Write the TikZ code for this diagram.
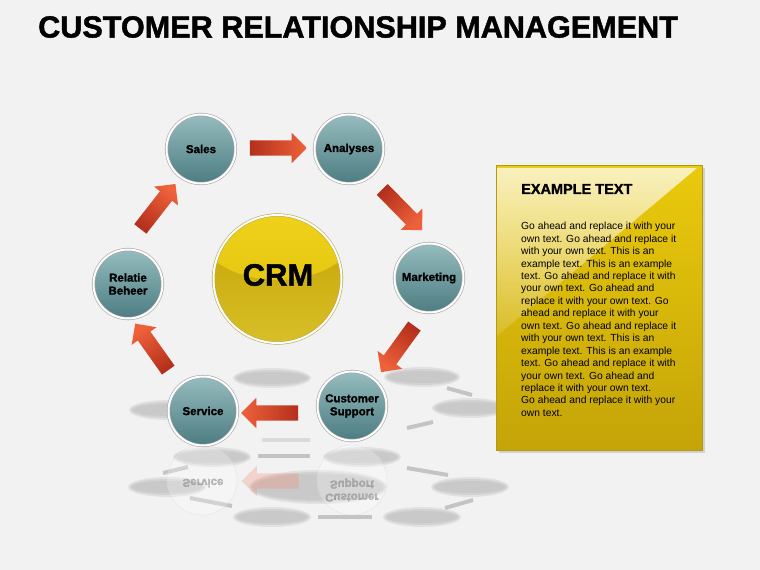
\documentclass[tikz,border=0pt]{standalone}
\usepackage{fontspec}
\setmainfont{Liberation Sans}
\newfontfamily\heavyfont[FakeBold=1.5,BoldFeatures={FakeBold=1.5}]{Liberation Sans}
\usetikzlibrary{shapes.arrows,fadings}
\definecolor{bg}{HTML}{F2F2F2}
\definecolor{ballTop}{HTML}{96BCBE}
\definecolor{ballBot}{HTML}{4C7C82}
\definecolor{arrDark}{HTML}{B4301C}
\definecolor{arrLight}{HTML}{EE613B}
\definecolor{crmTop}{HTML}{F5D820}
\definecolor{crmHi}{HTML}{E6C812}
\definecolor{crmMid}{HTML}{C3A200}
\definecolor{crmBot}{HTML}{D8BF28}
\definecolor{crmRing}{HTML}{BFA94A}
\definecolor{boxTop}{HTML}{EACA0C}
\definecolor{boxBot}{HTML}{C4A408}
\definecolor{boxEdge}{HTML}{B59A10}
\definecolor{shadowc}{HTML}{C4C4C4}
\begin{document}
\begin{tikzpicture}[x=1pt,y=-1pt,
  ball/.style={circle, minimum size=69pt, inner sep=0pt, top color=ballTop, bottom color=ballBot,
    draw=gray!70, line width=0.6pt, double=white, double distance=2pt,
    font=\heavyfont\bfseries\fontsize{11.5}{13}\selectfont, align=center},
  fatarr/.style={single arrow, minimum height=57pt, minimum width=30pt, single arrow head extend=7.5pt,
    inner xsep=0pt, inner ysep=7.5pt, top color=arrLight, bottom color=arrDark, draw=none,
    rotate=#1, shading angle=#1-90},
  shbar/.style={draw=shadowc, line width=4pt},
]
\useasboundingbox (0,0) rectangle (760,570);
\fill[bg] (0,0) rectangle (760,570);

% title
\node[font=\heavyfont\bfseries\fontsize{30.6}{32}\selectfont, anchor=west, inner sep=0pt] (title) at (38,27) {CUSTOMER RELATIONSHIP MANAGEMENT};

% soft shadows and reflection
\foreach \cx/\cy/\rx/\ry in {272/378/37/8, 422/377/36/8, 167/410/36/8, 470/408/36/8,
   212/457/37/8, 362/457/37/8, 167/487/37/8, 318/487/67/15, 470/487/37/8, 272/517/37/8, 422/517/37/8}
  {
  \fill[shadowc, fill opacity=0.35] (\cx,\cy) ellipse [x radius=\rx+2, y radius=\ry+2];
  \fill[shadowc, fill opacity=0.5] (\cx,\cy) ellipse [x radius=\rx, y radius=\ry];
  \fill[shadowc, fill opacity=0.6] (\cx,\cy) ellipse [x radius=\rx-2, y radius=\ry-2];
  }
\draw[shbar] (258,456) -- (310,456);
\draw[shbar] (318,517) -- (372,517);
\draw[shbar] (190,498) -- (232,506);
\draw[shbar] (407,468) -- (448,475);
\draw[shbar] (445,508) -- (473,500);
\draw[shbar] (163,473) -- (188,467);
\draw[shbar] (447,388) -- (472,395);
\draw[shbar] (407,428) -- (433,422);
\draw[shbar, opacity=.5] (262,440) -- (310,440);

\node[single arrow, minimum height=57pt, minimum width=30pt, single arrow head extend=7.5pt,
    inner xsep=0pt, inner ysep=7.5pt, fill=arrLight!70!bg, opacity=0.3, rotate=180] (arrrefl) at (274,481) {};
\node[circle, minimum size=70pt, draw=white!70!gray, fill=white, fill opacity=0.25, draw opacity=.6] (servrefl) at (202,480) {};
\node[circle, minimum size=70pt, draw=white!70!gray, fill=white, fill opacity=0.25, draw opacity=.6] (supprefl) at (352,480) {};
\node[yscale=-1, transform shape, text=gray, opacity=0.5, font=\heavyfont\bfseries\fontsize{11.5}{13}\selectfont] (servtxt) at (203,483) {Service};
\node[yscale=-1, transform shape, text=gray, opacity=0.5, font=\heavyfont\bfseries\fontsize{11.5}{13}\selectfont, align=center] (supptxt) at (352,490) {Customer\\Support};

% circles
\node[ball] (sales) at (201,149) {Sales};
\node[ball] (analyses) at (349,149) {Analyses};
\node[ball] (marketing) at (429,278) {Marketing};
\node[ball] (support) at (352,406) {Customer\\Support};
\node[ball] (service) at (203,411) {Service};
\node[ball] (relatie) at (128,284) {Relatie\\Beheer};

% arrows
\node[fatarr=0] (a1) at (274.5,148) {};
\node[fatarr=-45.6] (a2) at (399.5,207) {};
\node[fatarr=-125.9] (a3) at (400,346) {};
\node[fatarr=180] (a4) at (273.5,413) {};
\node[fatarr=125.4] (a5) at (154,350) {};
\node[fatarr=52] (a6) at (155.5,209.5) {};

% CRM
\node[circle, minimum size=128pt, inner sep=0pt, top color=crmMid, bottom color=crmBot] (crm) at (277.5,279) {};
\begin{scope}
  \clip (crm.center) circle (64);
  \shade[top color=crmTop, bottom color=crmHi] (277.5,222) ellipse [x radius=84, y radius=58];
\end{scope}
\draw[crmRing, line width=0.6pt, double=white, double distance=2pt] (crm.center) circle (64);
\node[font=\heavyfont\bfseries\fontsize{31}{31}\selectfont] (crmtxt) at (278,275) {CRM};

% text box
\fill[black!18] (499,168) rectangle (705,453);
\node[anchor=north west, minimum width=206pt, minimum height=285pt, inner sep=0pt,
  top color=boxTop, bottom color=boxBot, draw=boxEdge, line width=0.5pt] (box) at (496,165) {};
\fill[white, fill opacity=0.7, path fading=south] (497,168) -- (697,168) -- (497,336) -- cycle;
\fill[white, fill opacity=0.12] (497,168) -- (697,168) -- (497,336) -- cycle;
\node[anchor=west, inner sep=0pt, font=\heavyfont\bfseries\fontsize{14.5}{16}\selectfont] (head) at (521,189) {EXAMPLE TEXT};
\node[anchor=north west, align=left, inner sep=0pt, font=\fontsize{10.3}{12.45}\selectfont] (body) at (521,222) {%
Go ahead and replace it with your\\
own text. Go ahead and replace it\\
with your own text. This is an\\
example text. This is an example\\
text. Go ahead and replace it with\\
your own text. Go ahead and\\
replace it with your own text. Go\\
ahead and replace it with your\\
own text. Go ahead and replace it\\
with your own text. This is an\\
example text. This is an example\\
text. Go ahead and replace it with\\
your own text. Go ahead and\\
replace it with your own text.\\
Go ahead and replace it with your\\
own text.};
\end{tikzpicture}
\end{document}
